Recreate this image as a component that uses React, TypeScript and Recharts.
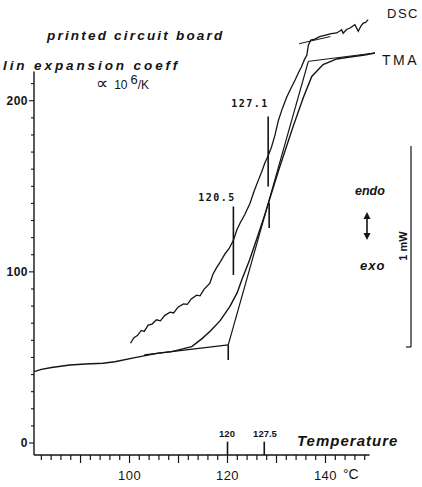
import React from 'react';
import { LineChart, Line, XAxis, YAxis, ReferenceLine } from 'recharts';

// DSC trace (x: temperature °C, y: left-axis units)
const dscCurve = [
  { x: 100.2, y: 58.3 }, { x: 100.9, y: 61.5 }, { x: 101.6, y: 62.8 }, { x: 102.4, y: 65.8 },
  { x: 103.0, y: 65.2 }, { x: 103.8, y: 68.9 }, { x: 104.6, y: 69.5 }, { x: 105.5, y: 72.0 },
  { x: 106.3, y: 71.4 }, { x: 107.2, y: 74.6 }, { x: 108.3, y: 76.5 }, { x: 109.0, y: 76.0 },
  { x: 109.9, y: 79.4 }, { x: 111.0, y: 81.3 }, { x: 111.8, y: 81.0 }, { x: 112.6, y: 84.2 },
  { x: 113.7, y: 86.4 }, { x: 114.4, y: 86.0 }, { x: 115.2, y: 89.8 }, { x: 116.4, y: 93.4 },
  { x: 117.0, y: 98.5 }, { x: 117.8, y: 102.6 }, { x: 118.6, y: 106.1 }, { x: 119.5, y: 110.6 },
  { x: 120.3, y: 113.5 }, { x: 121.2, y: 118.5 }, { x: 121.9, y: 124.5 }, { x: 122.6, y: 128.7 },
  { x: 123.5, y: 133.4 }, { x: 124.6, y: 140.1 }, { x: 125.4, y: 147.0 }, { x: 126.3, y: 153.6 },
  { x: 127.0, y: 158.6 }, { x: 127.6, y: 163.5 }, { x: 128.3, y: 167.8 }, { x: 129.0, y: 173.1 },
  { x: 129.7, y: 180.0 }, { x: 130.4, y: 188.6 }, { x: 131.2, y: 195.5 }, { x: 132.1, y: 202.2 },
  { x: 133.0, y: 207.6 }, { x: 133.8, y: 212.1 }, { x: 134.5, y: 216.5 }, { x: 135.1, y: 219.8 },
  { x: 135.7, y: 224.0 }, { x: 136.2, y: 226.7 }, { x: 136.5, y: 232.4 }, { x: 137.0, y: 235.5 },
  { x: 137.8, y: 236.0 }, { x: 138.8, y: 237.4 }, { x: 140.2, y: 238.5 }, { x: 141.2, y: 239.2 },
  { x: 142.3, y: 239.6 }, { x: 143.0, y: 240.9 }, { x: 143.3, y: 241.5 }, { x: 143.6, y: 239.4 },
  { x: 144.3, y: 241.6 }, { x: 145.0, y: 242.5 }, { x: 146.0, y: 244.4 }, { x: 146.7, y: 240.5 },
  { x: 147.2, y: 243.5 }, { x: 147.7, y: 245.4 }, { x: 148.2, y: 245.8 }, { x: 148.7, y: 247.4 },
];

// TMA trace
const tmaCurve = [
  { x: 80.56, y: 41.7 }, { x: 82.0, y: 43.0 }, { x: 84.1, y: 44.1 }, { x: 87.8, y: 45.6 },
  { x: 91.0, y: 46.2 }, { x: 94.6, y: 46.6 }, { x: 97.0, y: 47.5 }, { x: 101.1, y: 49.9 },
  { x: 105.9, y: 52.5 }, { x: 108.6, y: 53.4 }, { x: 112.7, y: 56.3 }, { x: 114.8, y: 61.0 },
  { x: 116.5, y: 65.5 }, { x: 118.5, y: 71.5 }, { x: 120.5, y: 79.8 }, { x: 122.0, y: 88.0 },
  { x: 122.9, y: 95.3 }, { x: 124.5, y: 107.0 }, { x: 126.0, y: 119.5 }, { x: 127.6, y: 133.3 },
  { x: 130.5, y: 160.0 }, { x: 133.4, y: 185.0 }, { x: 135.5, y: 202.0 }, { x: 137.2, y: 214.2 },
  { x: 139.5, y: 221.1 }, { x: 142.3, y: 224.4 }, { x: 145.0, y: 225.5 }, { x: 148.0, y: 226.7 },
  { x: 150.1, y: 227.9 },
];

// Tangent constructions
const tmaBaseTangent = [{ x: 103.0, y: 51.5 }, { x: 120.15, y: 57.3 }];
const tmaSteepTangent = [{ x: 120.15, y: 57.3 }, { x: 136.5, y: 223.0 }];
const tmaTopTangent = [{ x: 136.5, y: 223.0 }, { x: 150.1, y: 227.9 }];
const dscTopTangent = [{ x: 134.6, y: 233.3 }, { x: 141.0, y: 237.5 }];

// Markers [x, yFrom, yTo]
const markers: [number, number, number][] = [
  [120.15, 48.5, 57.3],
  [121.2, 98.2, 138.2],
  [128.3, 149.9, 190.8],
  [128.5, 125.6, 140.4],
  [120, -7, 0.8],
  [127.5, -7, 0.8],
];

const xTicks = [82, 84, 86, 88, 90, 92, 94, 96, 98, 100, 102, 104, 106, 108, 110, 112, 114, 116, 118, 120,
  122, 124, 126, 128, 130, 132, 134, 136, 138, 140, 142, 144, 146, 148];
const xTickLabels = [100, 120, 140];
const yTicks = [0, 10, 20, 30, 40, 50, 60, 70, 80, 90, 100, 110, 120, 130, 140, 150, 160, 170, 180, 190, 200, 210];
const yTickLabels = [0, 100, 200];

const INK = '#141414';
const SANS = '"Liberation Sans", Arial, sans-serif';
const MONO = '"DejaVu Sans Mono", monospace';

const XTick = (props: any) => {
  const { x, y, payload } = props;
  const v = payload.value;
  const major = v % 10 === 0;
  return (
    <g>
      <line x1={x} x2={x} y1={y} y2={y + (major ? 8 : 5)} stroke={INK} strokeWidth={1.2} />
      {xTickLabels.includes(v) && (
        <text x={x} y={y + 25} textAnchor="middle" fontSize={13} fontFamily={SANS} fill={INK} letterSpacing={0.5}>
          {v}
        </text>
      )}
    </g>
  );
};

const YTick = (props: any) => {
  const { x, y, payload } = props;
  const v = payload.value;
  const major = yTickLabels.includes(v);
  return (
    <g>
      <line x1={x - (major ? 5 : 3)} x2={x} y1={y} y2={y} stroke={INK} strokeWidth={1.1} />
      {major && (
        <text x={x - 6} y={y + 4} textAnchor="end" fontSize={12} fontFamily={SANS} fontWeight="bold" fill={INK} letterSpacing={0.5}>
          {v}
        </text>
      )}
    </g>
  );
};

export default function App() {
  return (
    <div style={{ position: 'absolute', left: 0, top: 0, width: 422, height: 487, background: '#fff' }}>
      <LineChart width={422} height={487} margin={{ top: 10, right: 0, bottom: 0, left: 0 }}>
        <XAxis
          type="number"
          dataKey="x"
          domain={[80.5, 159.7]}
          ticks={xTicks}
          interval={0}
          axisLine={false}
          tickLine={false}
          tickSize={0}
          tickMargin={0}
          height={32}
          tick={<XTick />}
        />
        <YAxis
          type="number"
          dataKey="y"
          domain={[-7, 253]}
          ticks={yTicks}
          interval={0}
          axisLine={false}
          tickLine={false}
          tickSize={0}
          tickMargin={0}
          width={34}
          tick={<YTick />}
        />
        <ReferenceLine segment={[{ x: 80.5, y: -7 }, { x: 149, y: -7 }]} stroke={INK} strokeWidth={1.4} />
        <ReferenceLine segment={[{ x: 80.5, y: -7 }, { x: 80.5, y: 217 }]} stroke={INK} strokeWidth={1.4} />
        {markers.map(([mx, y0, y1], i) => (
          <ReferenceLine key={i} segment={[{ x: mx, y: y0 }, { x: mx, y: y1 }]} stroke={INK} strokeWidth={1.6} />
        ))}
        <Line data={tmaCurve} dataKey="y" type="linear" dot={false} stroke={INK} strokeWidth={1.4} isAnimationActive={false} />
        <Line data={dscCurve} dataKey="y" type="linear" dot={false} stroke={INK} strokeWidth={1.3} isAnimationActive={false} />
        <Line data={tmaBaseTangent} dataKey="y" type="linear" dot={false} stroke={INK} strokeWidth={1.2} isAnimationActive={false} />
        <Line data={tmaSteepTangent} dataKey="y" type="linear" dot={false} stroke={INK} strokeWidth={1.2} isAnimationActive={false} />
        <Line data={tmaTopTangent} dataKey="y" type="linear" dot={false} stroke={INK} strokeWidth={1} isAnimationActive={false} />
        <Line data={dscTopTangent} dataKey="y" type="linear" dot={false} stroke={INK} strokeWidth={1} isAnimationActive={false} />

        {/* annotations */}
        <text x={47} y={40} fontSize={13.5} fontFamily={SANS} fontWeight="bold" fontStyle="italic" letterSpacing={2.2} fill={INK}>printed circuit board</text>
        <text x={3} y={70} fontSize={13.5} fontFamily={SANS} fontWeight="bold" fontStyle="italic" letterSpacing={2.9} fill={INK}>lin expansion coeff</text>
        <text x={96} y={89} fontSize={12} fontFamily={SANS} fill={INK}>
          <tspan fontSize={17} fontFamily='"DejaVu Sans", sans-serif'>∝</tspan>
          <tspan dx={6}>10</tspan>
          <tspan dx={3} dy={-5} fontSize={13}>6</tspan>
          <tspan dy={5}>/K</tspan>
        </text>
        <text x={387} y={18} fontSize={13} fontFamily={SANS} letterSpacing={1.5} fill={INK}>DSC</text>
        <text x={382} y={65} fontSize={14} fontFamily={SANS} letterSpacing={2.5} fill={INK}>TMA</text>
        <text x={250} y={107} textAnchor="middle" fontSize={10} fontFamily={MONO} fontWeight="bold" letterSpacing={1.5} fill={INK}>127.1</text>
        <text x={217} y={201} textAnchor="middle" fontSize={10} fontFamily={MONO} fontWeight="bold" letterSpacing={1.5} fill={INK}>120.5</text>
        <text x={227} y={437} textAnchor="middle" fontSize={9.5} fontFamily={SANS} fontWeight="bold" fill={INK}>120</text>
        <text x={265} y={437} textAnchor="middle" fontSize={9.5} fontFamily={SANS} fontWeight="bold" fill={INK}>127.5</text>
        <text x={297} y={446} fontSize={15} fontFamily={SANS} fontWeight="bold" fontStyle="italic" letterSpacing={1} fill={INK}>Temperature</text>
        <text x={343} y={479} fontSize={14} fontFamily={SANS} fill={INK}>°C</text>
        <text x={355} y={195} fontSize={12.5} fontFamily={SANS} fontWeight="bold" fontStyle="italic" fill={INK}>endo</text>
        <text x={360} y={270} fontSize={13} fontFamily={SANS} fontWeight="bold" fontStyle="italic" letterSpacing={1} fill={INK}>exo</text>
        {/* endo/exo arrow */}
        <line x1={367} x2={367} y1={216} y2={236} stroke={INK} strokeWidth={1.6} />
        <path d="M363.5,219 L367,212 L370.5,219 Z" fill={INK} />
        <path d="M363.5,233 L367,240 L370.5,233 Z" fill={INK} />
        {/* 1 mW scale bar */}
        <line x1={411} x2={411} y1={146} y2={347} stroke={INK} strokeWidth={1.2} />
        <line x1={406} x2={411} y1={347} y2={347} stroke={INK} strokeWidth={1.2} />
        <text x={407} y={246} transform="rotate(-90 407 246)" textAnchor="middle" fontSize={11} fontFamily={SANS} fontWeight="bold" fill={INK}>1 mW</text>
      </LineChart>
    </div>
  );
}
